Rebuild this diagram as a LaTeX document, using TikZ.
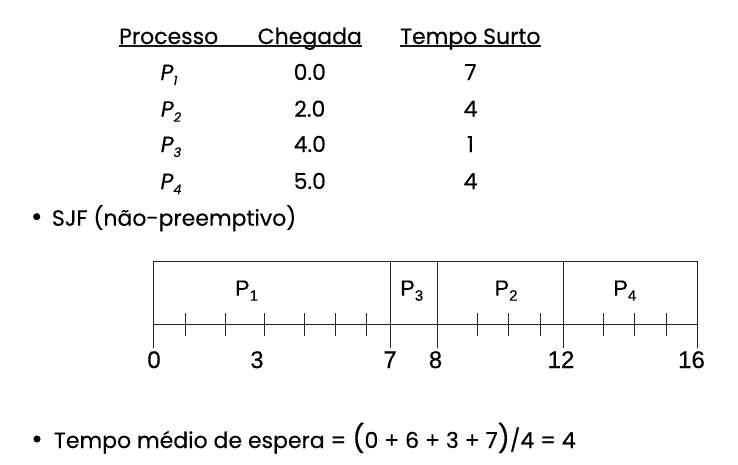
\documentclass[tikz,border=0pt]{standalone}
\usepackage{fontspec}
\setmainfont[FakeBold=0.35]{Poppins}
\newfontfamily\ganttfont[FakeBold=0.35]{Liberation Sans}
\newcommand\tsub[1]{\raisebox{-5pt}{\fontsize{13}{13}\selectfont #1}}
\newcommand\gsubs[1]{\raisebox{-5pt}{\fontsize{15}{15}\selectfont #1}}
\newcommand\bigpar[1]{{\fontsize{27}{27}\selectfont #1}}
\begin{document}
\begin{tikzpicture}[x=1pt,y=-1pt,
  txt/.style={inner sep=0pt, anchor=base, font=\fontsize{22}{26}\selectfont},
  ltxt/.style={txt, anchor=base west},
  bultxt/.style={inner sep=0pt, anchor=base, font=\fontsize{28}{30}\selectfont},
  gtxt/.style={inner sep=0pt, anchor=base, font=\ganttfont\fontsize{24}{26}\selectfont},
  ptxt/.style={inner sep=0pt, anchor=base, font=\ganttfont\fontsize{22}{26}\selectfont},
  uline/.style={line width=1.2pt, draw=black!90},
  gline/.style={line width=0.9pt, draw=black!85},
  tickmark/.style={line width=0.9pt, draw=black!85}]
\useasboundingbox (0,0) rectangle (738,464);

% table header
\node[txt] (hproc) at (168.7,44) {Processo};
\node[txt] (hcheg) at (309.8,44) {Chegada};
\node[txt] (hburst) at (470.3,44) {Tempo Surto};
\draw[uline] ([yshift=-2pt]hproc.base west) -- ([yshift=-2pt]hcheg.base east);
\draw[uline] ([yshift=-2pt]hburst.base west) -- ([yshift=-2pt]hburst.base east);

% rows
\node[txt] (p1) at (169,80) {\itshape P\tsub{1}};
\node[txt] (p2) at (171,116.7) {\itshape P\tsub{2}};
\node[txt] (p3) at (171,152) {\itshape P\tsub{3}};
\node[txt] (p4) at (171,189) {\itshape P\tsub{4}};
\node[txt] (a1) at (309.8,80) {0.0};
\node[txt] (a2) at (309.8,116.7) {2.0};
\node[txt] (a3) at (309.8,152) {4.0};
\node[txt] (a4) at (309.8,189) {5.0};
\node[txt] (b1) at (470.5,80) {7};
\node[txt] (b2) at (470.5,116.7) {4};
\node[txt] (b3) at (470.5,152) {1};
\node[txt] (b4) at (470.5,189) {4};

% bullets
\node[bultxt] (bul1) at (36.7,226) {•};
\node[ltxt] (sjf) at (51.7,225.7) {SJF (não-preemptivo)};
\node[bultxt] (bul2) at (37,448.3) {•};
\node[ltxt] (avg) at (53.8,448) {Tempo médio de espera = \bigpar{(}0 + 6 + 3 + 7\bigpar{)}/4 = 4};

% gantt chart
\draw[gline] (153,348) -- (153,261) -- (697,261) -- (697,348);
\draw[gline] (153,324.7) -- (697,324.7);
\foreach \x in {390,437,563} \draw[gline] (\x,261) -- (\x,348);
\foreach \x in {185.5,225.5,264.5,304,335,366,477,508.5,540,603,634.5,666}
  \draw[tickmark] (\x,313) -- (\x,336);

\node[ptxt] (gp1) at (246.5,295.7) {P\gsubs{1}};
\node[ptxt] (gp3) at (411.7,295.7) {P\gsubs{3}};
\node[ptxt] (gp2) at (506,295.7) {P\gsubs{2}};
\node[ptxt] (gp4) at (624.8,295.7) {P\gsubs{4}};

\node[gtxt] (t0) at (154,368) {0};
\node[gtxt] (t3) at (257,368) {3};
\node[gtxt] (t7) at (390,368) {7};
\node[gtxt] (t8) at (435.5,368) {8};
\node[gtxt] (t12) at (561,368) {12};
\node[gtxt] (t16) at (691.5,368) {16};
\end{tikzpicture}
\end{document}
